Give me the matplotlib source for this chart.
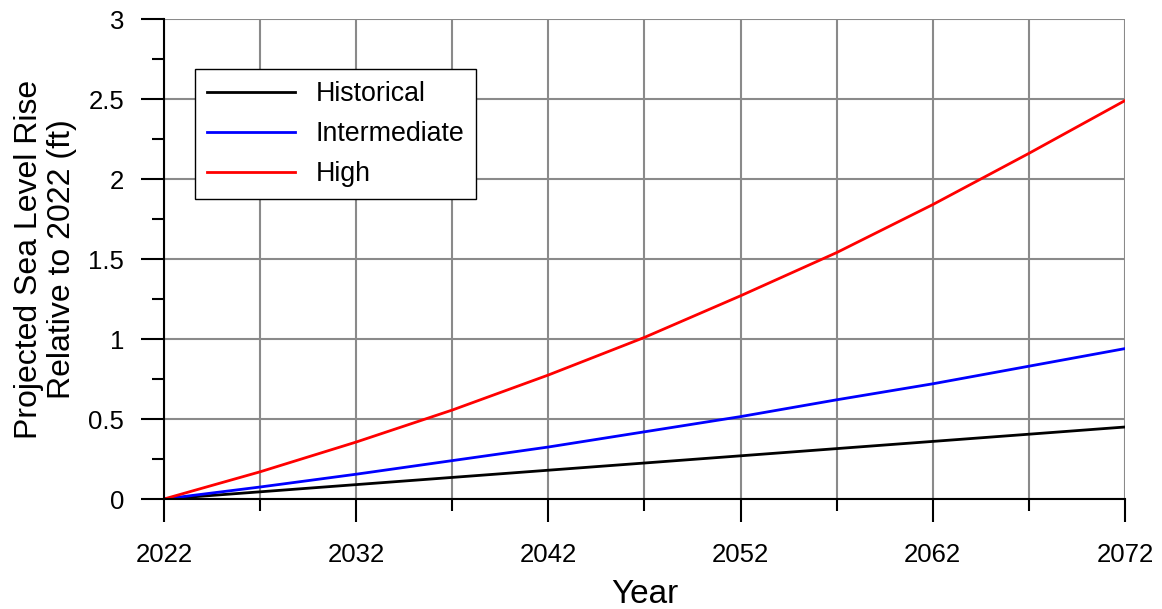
import numpy as np
import matplotlib.pyplot as plt

plt.rcParams['font.family'] = ['Liberation Sans', 'DejaVu Sans']

years = [2022, 2027, 2032, 2037, 2042, 2047, 2052, 2057, 2062, 2067, 2072]
historical = [0, 0.045, 0.09, 0.135, 0.18, 0.225, 0.27, 0.315, 0.36, 0.405, 0.45]
intermediate = [0, 0.075, 0.155, 0.24, 0.325, 0.42, 0.515, 0.62, 0.72, 0.83, 0.94]
high = [0, 0.17, 0.356, 0.556, 0.775, 1.01, 1.27, 1.54, 1.84, 2.16, 2.49]

x_major = [2022, 2032, 2042, 2052, 2062, 2072]
x_minor = [2027, 2037, 2047, 2057, 2067]
y_major = [0, 0.5, 1, 1.5, 2, 2.5, 3]
y_labels = ['0', '0.5', '1', '1.5', '2', '2.5', '3']
y_minor = [0.25, 0.75, 1.25, 1.75, 2.25, 2.75]

fig = plt.figure(figsize=(11.62, 6.09), dpi=100)
ax = fig.add_axes([0.1411, 0.1806, 0.827, 0.7882])

ax.plot(years, historical, color='black', lw=2, label='Historical', zorder=3)
ax.plot(years, intermediate, color='blue', lw=2, label='Intermediate', zorder=3)
ax.plot(years, high, color='red', lw=2, label='High', zorder=3)

ax.set_xlim(2022, 2072)
ax.set_ylim(0, 3)
ax.set_xticks(x_major)
ax.set_xticks(x_minor, minor=True)
ax.set_yticks(y_major)
ax.set_yticklabels(y_labels)
ax.set_yticks(y_minor, minor=True)

ax.grid(True, which='major', color='#8a8a8a', lw=1.5)
ax.grid(True, which='minor', axis='x', color='#8a8a8a', lw=1.5)

for s in ['top', 'right']:
    ax.spines[s].set_visible(False)
for s in ['left', 'bottom']:
    ax.spines[s].set_linewidth(1.5)
    ax.spines[s].set_zorder(4)

ax.tick_params(which='major', length=16.5, width=1.5, labelsize=18.5, direction='out')
ax.tick_params(which='minor', length=8.5, width=1.5, direction='out')
ax.tick_params(axis='x', which='major', pad=15)
ax.tick_params(axis='y', which='major', pad=12)

ax.set_xlabel('Year', fontsize=24, va='top')
ax.xaxis.set_label_coords(0.5, -0.166)
ax.set_ylabel('Projected Sea Level Rise\nRelative to 2022 (ft)', fontsize=23, linespacing=1.1)
ax.yaxis.set_label_coords(-0.091, 0.5)

leg = ax.legend(loc='upper left', bbox_to_anchor=(0.032, 0.896), borderaxespad=0,
                fontsize=19.3, frameon=True, fancybox=False, framealpha=1,
                edgecolor='black', handlelength=3.3, handletextpad=0.74,
                labelspacing=0.52, borderpad=0.46)
leg.get_frame().set_linewidth(1)
leg.set_zorder(5)

fig.savefig('out.png', dpi=100)
